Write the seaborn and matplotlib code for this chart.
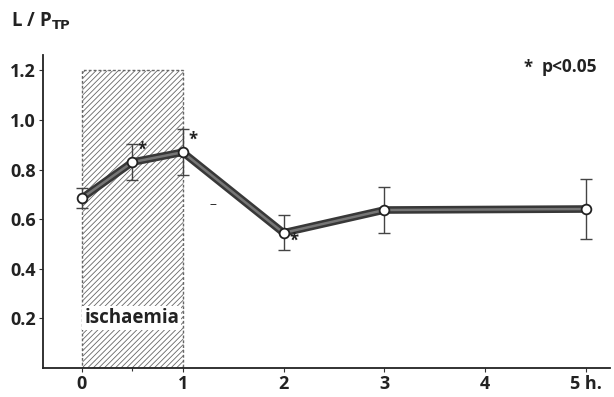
import numpy as np
import pandas as pd
import matplotlib
matplotlib.use("Agg")
import matplotlib.pyplot as plt
from matplotlib.patches import Rectangle
import seaborn as sns

# data
hours = [0, 0.5, 1, 2, 3, 5]
ratio = [0.685, 0.83, 0.87, 0.545, 0.637, 0.641]
err = [0.04, 0.073, 0.093, 0.07, 0.093, 0.12]
star_hours = [0.5, 1, 2]
ytick_vals = [0.2, 0.4, 0.6, 0.8, 1.0, 1.2]
xtick_vals = [0, 1, 2, 3, 4, 5]
xtick_labels = ["0", "1", "2", "3", "4", "5 h."]
isch_start, isch_end, isch_top = 0, 1, 1.2

sns.set_style("ticks")
plt.rcParams["font.family"] = ["Open Sans", "DejaVu Sans"]
plt.rcParams["hatch.linewidth"] = 0.6

df = pd.DataFrame({"h": hours, "r": ratio})

fig = plt.figure(figsize=(6.14, 3.97), dpi=100)
ax = fig.add_axes([0.070, 0.073, 0.9235, 0.7885])

# ischaemia period
ax.add_patch(Rectangle((isch_start, 0), isch_end - isch_start, isch_top,
                       fill=False, hatch="//////", edgecolor="#666666",
                       linestyle=(0, (2, 1.5)), lw=1.0, zorder=1))
ax.text(0.025, 0.2, "ischaemia", fontsize=13.5, fontweight="bold",
        color="#222222", va="center", ha="left",
        bbox=dict(facecolor="white", edgecolor="none", pad=1.5), zorder=2)

# error bars
ax.errorbar(hours, ratio, yerr=err, fmt="none", ecolor="#444444",
            elinewidth=1.0, capsize=4.5, capthick=1.0, zorder=3)

# thick line with lighter core
sns.lineplot(data=df, x="h", y="r", ax=ax, color="#383838", lw=5.5,
             zorder=4, legend=False)
sns.lineplot(data=df, x="h", y="r", ax=ax, color="#767676", lw=1.8,
             zorder=5, legend=False)
ax.plot(hours, ratio, ls="none", marker="o", ms=7, mfc="white",
        mec="#222222", mew=1.3, zorder=6)

# significance stars
for h in star_hours:
    i = hours.index(h)
    dy = -0.03 if h == 2 else 0.05
    ax.text(h + 0.1, ratio[i] + dy, "*", fontsize=12, fontweight="bold",
            color="#222222", ha="center", va="center", zorder=7)
ax.text(1.3, 0.66, "–", fontsize=10, color="#333333", ha="center",
        va="center")

ax.set_xlim(-0.387, 5.24)
ax.set_ylim(0, 1.262)
ax.set_xticks(xtick_vals)
ax.set_xticklabels(xtick_labels)
ax.set_xticks([0.5], minor=True)
ax.set_yticks(ytick_vals)
ax.set_yticklabels([f"{v:.1f}" for v in ytick_vals])
ax.tick_params(axis="both", which="both", direction="out", length=3,
               width=0.8, color="#333333", labelsize=13,
               labelcolor="#222222", pad=2)
ax.tick_params(axis="x", which="minor", length=2)
for lab in ax.get_xticklabels() + ax.get_yticklabels():
    lab.set_fontweight("bold")
ax.set_xlabel("")
ax.set_ylabel("")

sns.despine(ax=ax)
for s in ["left", "bottom"]:
    ax.spines[s].set_linewidth(1.3)
    ax.spines[s].set_color("#222222")

fig.text(0.018, 0.945, r"L / P$_{\mathbf{TP}}$", fontsize=13.5,
         fontweight="bold", color="#222222", va="center", ha="left")
fig.text(0.853, 0.83, "*", fontsize=12, fontweight="bold",
         color="#222222", va="center", ha="left")
fig.text(0.882, 0.83, "p<0.05", fontsize=12.5, fontweight="bold",
         color="#222222", va="center", ha="left")

fig.savefig("out.png", dpi=100)
